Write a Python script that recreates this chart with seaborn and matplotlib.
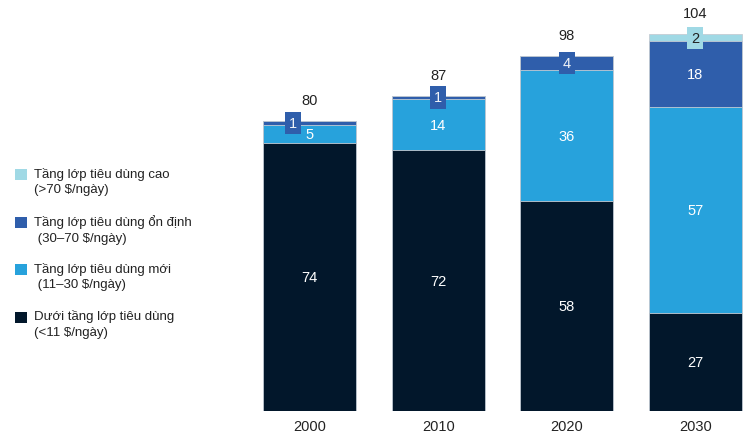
import matplotlib
matplotlib.use("Agg")
import matplotlib.pyplot as plt
import matplotlib.patches as mpatches
import numpy as np
import pandas as pd
import seaborn as sns

# Population by consumption class (millions)
years = ["2000", "2010", "2020", "2030"]
below = [74, 72, 58, 27]      # Dưới tầng lớp tiêu dùng (<11 $/ngày)
new_cls = [5, 14, 36, 57]     # Tầng lớp tiêu dùng mới (11–30 $/ngày)
stable = [1, 1, 4, 18]        # Tầng lớp tiêu dùng ổn định (30–70 $/ngày)
high = [0, 0, 0, 2]           # Tầng lớp tiêu dùng cao (>70 $/ngày)
totals = [80, 87, 98, 104]

layer_names = [
    "Dưới tầng lớp tiêu dùng\n(<11 $/ngày)",
    "Tầng lớp tiêu dùng mới\n (11–30 $/ngày)",
    "Tầng lớp tiêu dùng ổn định\n (30–70 $/ngày)",
    "Tầng lớp tiêu dùng cao\n(>70 $/ngày)",
]
layer_values = [below, new_cls, stable, high]
layer_colors = ["#02172b", "#27a2dc", "#2f5eab", "#a0d9e5"]

# horizontal nudge (points) for boxed labels that would cover a neighbour label
box_nudge = {(2, 0): -12}

sns.set_theme(style="white")
plt.rcParams["font.family"] = ["Liberation Sans", "DejaVu Sans"]

fig = plt.figure(figsize=(7.55, 4.35), dpi=100)
ax = fig.add_axes([239 / 755, 23 / 435, 514 / 755, 398.75 / 435])

df = pd.DataFrame({"year": years})
vals = np.array(layer_values, dtype=float)
cums = np.cumsum(vals, axis=0)

# stacked bars: draw cumulative heights from tallest to shortest
for i in range(len(layer_values) - 1, -1, -1):
    df["h"] = cums[i]
    sns.barplot(data=df, x="year", y="h", color=layer_colors[i], saturation=1,
                width=0.724, edgecolor="#c5ccd4", linewidth=0.6, ax=ax,
                order=years)

ax.set_xlim(-0.55, 3.45)
ax.set_ylim(0, 110)
ax.set_xlabel("")
ax.set_ylabel("")
ax.set_yticks([])
for s in ax.spines.values():
    s.set_visible(False)
ax.tick_params(axis="x", length=0, labelsize=10.5, colors="#222222", pad=6)

# segment labels
for i, layer in enumerate(layer_values):
    for j, v in enumerate(layer):
        if v == 0:
            continue
        mid = cums[i][j] - v / 2
        if v >= 5:
            ax.text(j, mid, f"{v}", ha="center", va="center", color="white",
                    fontsize=10.5)
        else:
            tc = "#222222" if i == 3 else "#f0f3f7"
            ax.annotate(f"{v}", xy=(j, mid), xytext=(box_nudge.get((i, j), 0), 0),
                        textcoords="offset points", ha="center", va="center",
                        color=tc, fontsize=10.5,
                        bbox=dict(boxstyle="square,pad=0.28", fc=layer_colors[i],
                                  ec="none"))

# totals above bars
for j, t in enumerate(totals):
    ax.annotate(f"{t}", xy=(j, t), xytext=(0, 15), textcoords="offset points",
                ha="center", va="center", fontsize=10.5, color="#222222")

# legend, top to bottom
legend_items = list(zip(layer_names, layer_colors))[::-1]
y0 = 435 - 170
for k, (name, col) in enumerate(legend_items):
    ytop = y0 - k * 47.5
    fig.patches.append(mpatches.Rectangle((15 / 755, (ytop - 11) / 435), 12 / 755, 11 / 435,
                                          transform=fig.transFigure, fc=col, ec="none"))
    fig.text(34 / 755, (ytop + 2) / 435, name, ha="left", va="top", fontsize=9.5,
             color="#222222", linespacing=1.35)

fig.savefig("out.png", dpi=100)
